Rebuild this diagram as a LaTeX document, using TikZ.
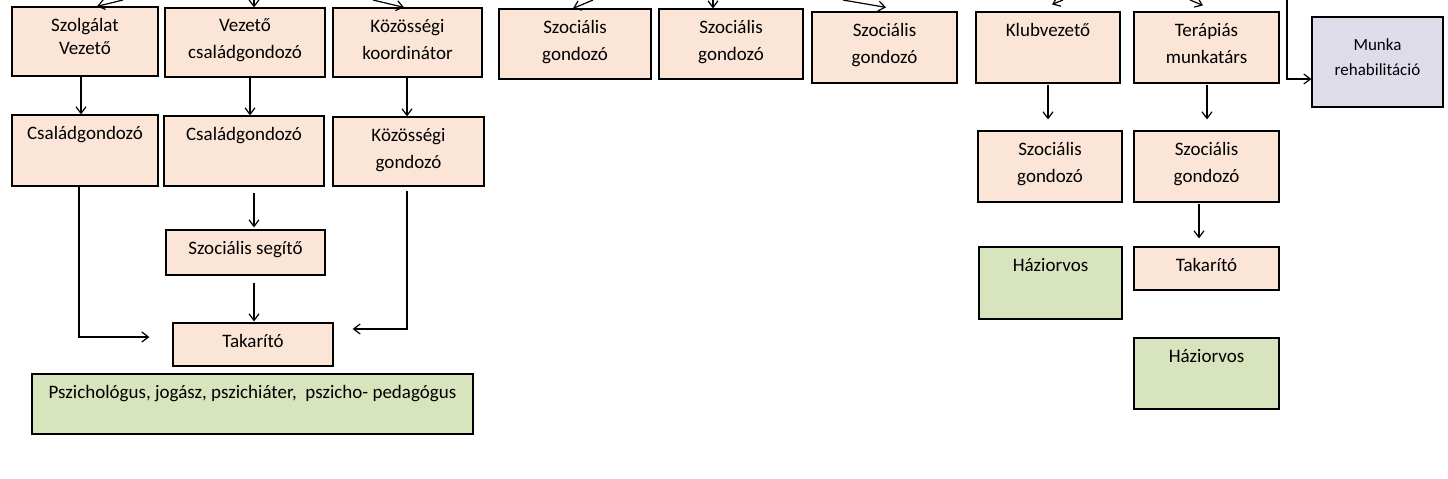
\documentclass[tikz,border=0pt]{standalone}
\usepackage{fontspec}
\setmainfont{Carlito}
\usetikzlibrary{arrows.meta,calc,fit}
\definecolor{barack}{RGB}{251,229,214}
\definecolor{oliva}{RGB}{215,228,189}
\definecolor{levendula}{RGB}{223,220,234}

\begin{document}
\begin{tikzpicture}[x=0.5pt,y=-0.5pt,
		>={Straight Barb[length=3.3pt,width=5pt]},
		egyseg/.style={draw, line width=0.6pt, fill=barack, inner sep=0pt},
		zold/.style={egyseg, fill=oliva},
		lilas/.style={egyseg, fill=levendula},
		felirat/.style={anchor=north, inner sep=0pt, yshift=-5.6pt, align=center,
			font=\fontsize{9.5}{13.5}\selectfont},
		kisfelirat/.style={felirat, yshift=-5.4pt, font=\fontsize{8.5}{12.5}\selectfont},
		nyil/.style={->, line width=0.6pt}]
	\useasboundingbox (0,0) rectangle (1448,478);
	\node[egyseg, fit={(12,7) (158,76)}, label={[felirat]north:{Szolgálat\\[-2pt]Vezető}}] (sv) {};
	\node[egyseg, fit={(165,8) (325,77)}, label={[felirat]north:{Vezető\\családgondozó}}] (vcg) {};
	\node[egyseg, fit={(333,8) (482,77)}, label={[felirat]north:{Közösségi\\koordinátor}}] (kk) {};
	\node[egyseg, fit={(12,115) (158,186)}, label={[felirat]north:Családgondozó}] (cg1) {};
	\node[egyseg, fit={(164,116) (324,186)}, label={[felirat]north:Családgondozó}] (cg2) {};
	\node[egyseg, fit={(333,117) (484,186)}, label={[felirat]north:{Közösségi\\gondozó}}] (kg) {};
	\node[egyseg, fit={(166,230) (325,275)}, label={[felirat]north:Szociális segítő}] (ss) {};
	\node[egyseg, fit={(173,323) (333,366)}, label={[felirat]north:Takarító}] (tk1) {};
	\node[zold, fit={(32,374) (473,434)}, label={[felirat]north:{Pszichológus, jogász, pszichiáter, ~pszicho- pedagógus}}] (psz) {};
	\node[egyseg, fit={(499,9) (651,79)}, label={[felirat]north:{Szociális\\gondozó}}] (sz1) {};
	\node[egyseg, fit={(659,9) (803,79)}, label={[felirat]north:{Szociális\\gondozó}}] (sz2) {};
	\node[egyseg, fit={(812,12) (957,83)}, label={[felirat]north:{Szociális\\gondozó}}] (sz3) {};
	\node[egyseg, fit={(976,12) (1120,83)}, label={[felirat]north:Klubvezető}] (kv) {};
	\node[egyseg, fit={(1134,12) (1279,83)}, label={[felirat]north:{Terápiás\\munkatárs}}] (tm) {};
	\node[lilas, fit={(1312,17) (1443,107)}, label={[kisfelirat]north:{Munka\\rehabilitáció}}] (mr) {};
	\node[egyseg, fit={(978,131) (1122,202)}, label={[felirat]north:{Szociális\\gondozó}}] (szk) {};
	\node[egyseg, fit={(1134,131) (1279,202)}, label={[felirat]north:{Szociális\\gondozó}}] (szt) {};
	\node[zold, fit={(979,247) (1122,319)}, label={[felirat]north:Háziorvos}] (ho1) {};
	\node[egyseg, fit={(1134,247) (1279,290)}, label={[felirat]north:Takarító}] (tk2) {};
	\node[zold, fit={(1134,338) (1279,409)}, label={[felirat]north:Háziorvos}] (ho2) {};
	\coordinate (in1) at (123,0);
	\coordinate (in2) at (254,0);
	\coordinate (in3) at (373,0);
	\coordinate (in4) at (593,0);
	\coordinate (in5) at (713,0);
	\coordinate (in6) at (843,0);
	\coordinate (in7) at (1063,0);
	\coordinate (in8) at (1190,0);
	\coordinate (in9) at (1287,0);
	\path[nyil]
	(in1) edge ($(sv.north)+(12,0)$)
	(in2) edge ($(vcg.north)+(9,0)$)
	(in3) edge ($(kk.north)+(-3.5,0)$)
	(in4) edge ($(sz1.north)+(-2,0)$)
	(in5) edge ($(sz2.north)+(-18,0)$)
	(in6) edge ($(sz3.north)+(1.5,-4)$)
	(in7) edge ($(kv.north)+(4,-7)$)
	(in8) edge ($(tm.north)+(-3.5,-6)$)
	($(sv.south)+(-4,0)$) edge ($(cg1.north)+(-4,0)$)
	($(vcg.south)+(5,0)$) edge ($(cg2.north)+(6,0)$)
	($(kk.south)+(-0.5,0)$) edge ($(kg.north)+(-1.5,0)$)
	($(cg2.south)+(10,6)$) edge ($(ss.north)+(8.5,-2)$)
	($(ss.south)+(8.5,7)$) edge ($(tk1.north)+(1,-1)$)
	($(kv.south)+(0,1)$) edge ($(szk.north)+(-2,-11)$)
	($(tm.south)+(0.5,1)$) edge ($(szt.north)+(0.5,-11)$)
	($(szt.south)+(-7.5,1)$) edge ($(tk2.north)+(-7.5,-8)$);
	\draw[nyil] ($(cg1.south)+(-6,0)$) |- ($(tk1.west)+(-23,-7.5)$);
	\draw[nyil] ($(kg.south)+(-1.5,4)$) |- ($(tk1.east)+(19,-15.5)$);
	\draw[nyil] (in9) |- ($(mr.west)+(0,17)$);
\end{tikzpicture}
\end{document}
